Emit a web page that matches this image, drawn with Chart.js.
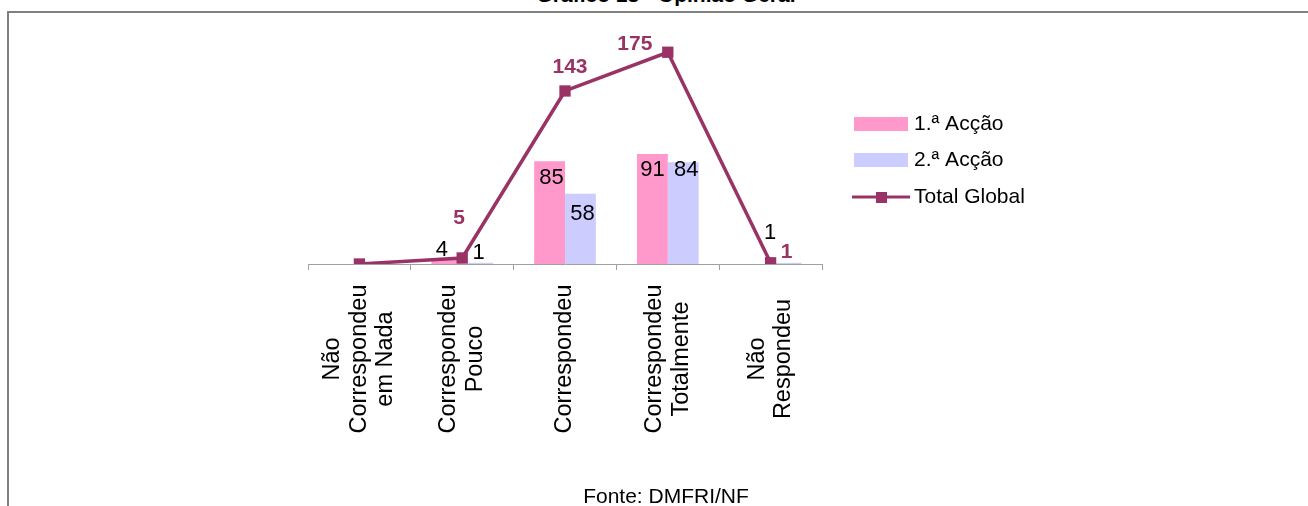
<!DOCTYPE html>
<html>
<head>
<meta charset="utf-8">
<script src="https://cdn.jsdelivr.net/npm/chart.js@4.4.1/dist/chart.umd.min.js"></script>
<style>
  body { margin: 0; background: #fff; font-family: "Liberation Sans", Arial, sans-serif; }
  #wrap { position: relative; width: 1308px; height: 506px; overflow: hidden; }
  #frame { position: absolute; left: 7px; top: 11px; width: 1400px; height: 600px;
           border-top: 2px solid #808080; border-left: 2px solid #808080; }
  #title { position: absolute; left: 0; width: 1332px; top: -16px; text-align: center;
           font-weight: bold; font-size: 21px; line-height: 21px; color: #000; }
  #source { position: absolute; left: 0; width: 1332px; top: 485px; text-align: center;
            font-size: 21px; line-height: 21px; color: #000; }
  #myChart { position: absolute; left: 0; top: 0; }
</style>
</head>
<body>
<div id="wrap">
  <div id="frame"></div>
  <div id="title">Gráfico 13 - Opinião Geral</div>
  <canvas id="myChart" width="1308" height="506"></canvas>
  <div id="source">Fonte: DMFRI/NF</div>
</div>
<script>
const categories = [
    ["Não", "Correspondeu", "em Nada"],
    ["Correspondeu", "Pouco"],
    ["Correspondeu"],
    ["Correspondeu", "Totalmente"],
    ["Não", "Respondeu"]
];
const firstAction = [0, 4, 85, 91, 0];
const secondAction = [0, 1, 58, 84, 1];
const totalGlobal = [0, 5, 143, 175, 1];
const seriesNames = ["1.ª Acção", "2.ª Acção", "Total Global"];

const pink = "#ff99cc";
const lilac = "#ccccff";
const purple = "#993366";
const fontFamily = '"Liberation Sans", Arial, sans-serif';

// where Excel put the value labels, relative to the top of each mark
const labelOffsets = [
    [[0, 0], [-3, -40], [5, -24], [-33, -8], [16, -11]],   // total line
    [[0, 0], [-5, -9], [2, 17], [0, 16], [0, 0]],          // 1.ª Acção
    [[0, 0], [1, -10], [2, 20], [3, 8], [-16, -30]]        // 2.ª Acção
];

const labelPlugin = {
    id: 'labels',
    afterDatasetsDraw(chart) {
        const c = chart.ctx;
        c.save();
        c.textAlign = 'center';
        c.textBaseline = 'middle';

        // bar values
        c.font = '22px ' + fontFamily;
        c.fillStyle = '#000';
        [1, 2].forEach(di => {
            chart.getDatasetMeta(di).data.forEach((bar, i) => {
                const v = chart.data.datasets[di].data[i];
                if (!v) return;
                const off = labelOffsets[di][i];
                c.fillText(String(v), bar.x + off[0], bar.y + off[1]);
            });
        });

        // total values
        c.font = 'bold 21px ' + fontFamily;
        c.fillStyle = purple;
        chart.getDatasetMeta(0).data.forEach((pt, i) => {
            const v = totalGlobal[i];
            if (!v) return;
            const off = labelOffsets[0][i];
            c.fillText(String(v), pt.x + off[0], pt.y + off[1]);
        });
        c.restore();
    },
    afterDraw(chart) {
        const c = chart.ctx;
        const xs = chart.scales.x;
        c.save();
        c.fillStyle = '#000';
        c.textAlign = 'center';
        c.textBaseline = 'middle';

        // rotated category labels
        c.font = '23.5px ' + fontFamily;
        categories.forEach((lines, i) => {
            const cx = xs.getPixelForValue(i);
            c.save();
            c.translate(cx, 359);
            c.rotate(-Math.PI / 2);
            lines.forEach((ln, k) => {
                c.fillText(ln, 0, (k - (lines.length - 1) / 2) * 26.5);
            });
            c.restore();
        });

        // legend
        c.font = '21px ' + fontFamily;
        c.textAlign = 'left';
        c.fillStyle = pink;
        c.fillRect(854, 117, 54, 14);
        c.fillStyle = lilac;
        c.fillRect(854, 153, 54, 14);
        c.strokeStyle = purple;
        c.lineWidth = 3;
        c.beginPath();
        c.moveTo(852, 197);
        c.lineTo(910, 197);
        c.stroke();
        c.fillStyle = purple;
        c.fillRect(876, 192, 11, 11);

        c.fillStyle = '#000';
        c.fillText(seriesNames[0], 914, 124);
        c.fillText(seriesNames[1], 914, 160);
        c.fillText(seriesNames[2], 914, 197);
        c.restore();
    }
};

const ctx = document.getElementById('myChart').getContext('2d');
const myChart = new Chart(ctx, {
    type: 'bar',
    data: {
        labels: categories.map(l => l.join(' ')),
        datasets: [
            {
                type: 'line',
                label: seriesNames[2],
                data: totalGlobal,
                borderColor: purple,
                backgroundColor: purple,
                borderWidth: 3.5,
                pointStyle: 'rect',
                pointRadius: 8,
                pointHoverRadius: 8,
                pointBorderWidth: 0,
                tension: 0,
                order: 0
            },
            {
                label: seriesNames[0],
                data: firstAction,
                backgroundColor: pink,
                categoryPercentage: 0.6,
                barPercentage: 1,
                order: 1
            },
            {
                label: seriesNames[1],
                data: secondAction,
                backgroundColor: lilac,
                categoryPercentage: 0.6,
                barPercentage: 1,
                order: 1
            }
        ]
    },
    options: {
        responsive: false,
        animation: false,
        layout: { padding: { left: 308, right: 486, top: 22, bottom: 0 } },
        plugins: {
            legend: { display: false },
            tooltip: { enabled: false }
        },
        scales: {
            x: {
                grid: { offset: true, drawOnChartArea: false, drawTicks: true, tickLength: 6, color: '#a0a0a0' },
                border: { color: '#a0a0a0', width: 1 },
                ticks: { display: false },
                afterFit: s => { s.height = 242; }
            },
            y: { display: false, min: 0, max: 200 }
        }
    },
    plugins: [labelPlugin]
});
</script>
</body>
</html>
